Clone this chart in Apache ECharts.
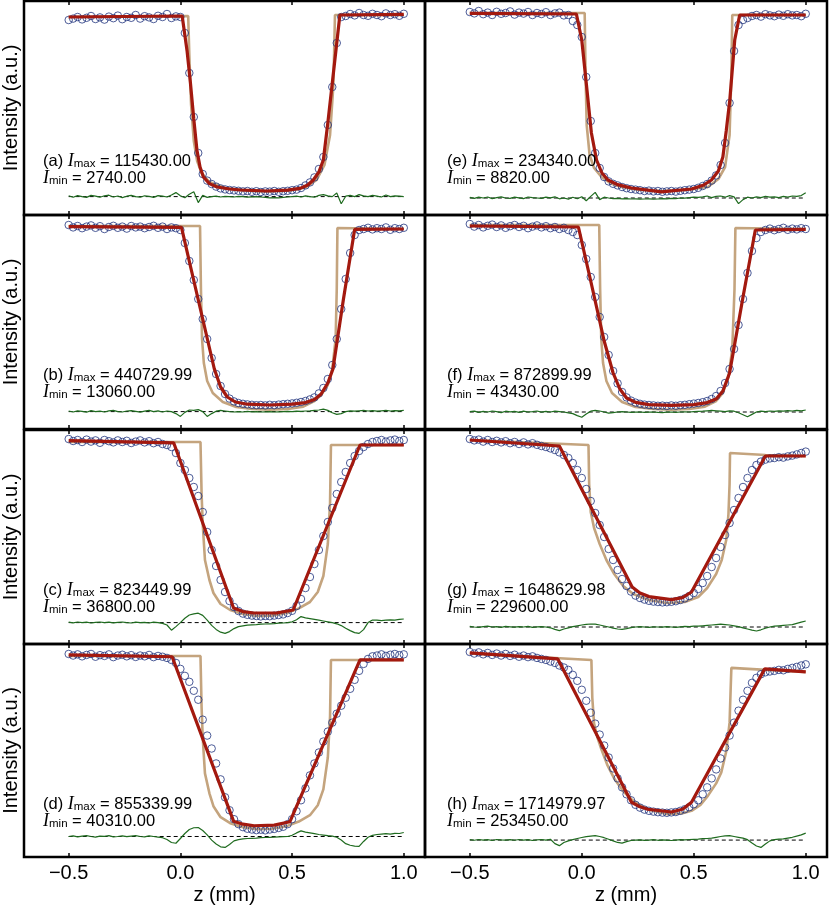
<!DOCTYPE html>
<html>
<head>
<meta charset="utf-8">
<script src="https://cdn.jsdelivr.net/npm/echarts@6/dist/echarts.min.js"></script>
<style>
  html, body { margin: 0; padding: 0; background: #fff; }
  #main { width: 830px; height: 906px; }
</style>
</head>
<body>
<div id="main"></div>
<script>
// z positions of the measured points (mm)
var zGrid = [-0.5,-0.48,-0.46,-0.44,-0.42,-0.4,-0.38,-0.36,-0.34,-0.32,-0.3,-0.28,-0.26,-0.24,-0.22,-0.2,-0.18,-0.16,-0.14,-0.12,-0.1,-0.08,-0.06,-0.04,-0.02,
  0,0.02,0.04,0.06,0.08,0.1,0.12,0.14,0.16,0.18,0.2,0.22,0.24,0.26,0.28,0.3,0.32,0.34,0.36,0.38,0.4,0.42,0.44,0.46,0.48,0.5,
  0.52,0.54,0.56,0.58,0.6,0.62,0.64,0.66,0.68,0.7,0.72,0.74,0.76,0.78,0.8,0.82,0.84,0.86,0.88,0.9,0.92,0.94,0.96,0.98,1.0];
var xTicks = [-0.5, 0, 0.5, 1.0];

var tags = ['a', 'b', 'c', 'd', 'e', 'f', 'g', 'h'];
var iMaxText = ['115430.00', '440729.99', '823449.99', '855339.99', '234340.00', '872899.99', '1648629.98', '1714979.97'];
var iMinText = ['2740.00', '13060.00', '36800.00', '40310.00', '8820.00', '43430.00', '229600.00', '253450.00'];
// zero level of the residual trace in each panel
var resBase = [0.092, 0.087, 0.107, 0.103, 0.085, 0.085, 0.085, 0.085];

// ---- panel (a)
var circA = [0.975,0.982,0.99,0.978,0.986,0.995,0.98,0.988,0.977,0.992,0.984,0.997,0.979,0.99,0.986,1.0,0.982,0.994,0.988,0.98,0.996,0.99,1.005,0.985,0.993,0.99,
  0.91,0.71,0.49,0.31,0.205,0.172,0.155,0.142,
  0.133,0.128,0.125,0.123,0.121,
  0.118,0.12,0.116,0.119,0.115,0.118,0.117,0.12,0.116,0.119,0.121,0.124,0.127,
  0.135,0.148,0.163,0.188,0.23,0.29,0.45,0.64,0.86,0.99,
  0.995,1.005,0.998,1.01,1.0,0.996,1.006,1.0,0.994,1.008,1.0,1.004,0.996,1.006];
var fitA = [[-0.5,0.99],[0.008,0.995],[0.03,0.82],[0.045,0.66],[0.06,0.48],[0.074,0.325],[0.088,0.24],[0.103,0.19],[0.13,0.157],[0.164,0.14],[0.22,0.13],[0.268,0.125],[0.388,0.12],[0.48,0.124],[0.536,0.133],[0.57,0.15],[0.595,0.175],[0.62,0.215],[0.64,0.275],[0.66,0.46],[0.68,0.66],[0.7,0.86],[0.714,1.0],[1.0,1.003]];
var modelA = [[-0.5,0.99],[0.035,0.995],[0.04,0.8],[0.048,0.55],[0.06,0.37],[0.075,0.27],[0.095,0.21],[0.13,0.165],[0.2,0.135],[0.3,0.122],[0.38,0.118],[0.48,0.122],[0.56,0.138],[0.61,0.175],[0.645,0.25],[0.67,0.4],[0.685,0.65],[0.692,1.0],[1.0,1.0]];
var resA = [0.004,-0.003,0.005,0.0,-0.004,0.006,0.002,-0.003,0.004,0.007,-0.002,0.003,-0.005,0.002,0.006,0.0,-0.003,0.004,0.001,-0.004,0.005,0.002,-0.002,0.008,
  0.02,0.004,-0.006,0.012,0.024,-0.03,0.006,-0.004,
  0.0,0.002,-0.002,0.001,0.0,-0.002,0.001,0.0,-0.003,-0.001,0.0,-0.002,-0.004,-0.006,-0.005,-0.006,-0.004,-0.002,0.0,0.002,
  -0.002,0.004,0.0,-0.003,0.006,0.01,0.004,0.0,0.018,-0.036,
  0.002,0.006,0.0,0.01,0.004,0.0,0.006,0.002,-0.002,0.008,0.0,0.004,0.002,0.0];

// ---- panel (b)
var circB = [1.02,1.008,1.015,1.004,1.012,1.018,1.006,1.014,1.0,1.01,1.016,1.006,1.012,1.002,1.015,1.008,1.012,1.004,1.01,1.016,1.006,1.012,1.0,1.008,1.004,
  0.995,0.93,0.84,0.745,0.65,0.55,0.45,0.355,0.275,0.215,0.175,0.152,0.138,0.13,
  0.126,0.123,0.121,0.119,0.12,0.118,0.121,0.119,0.122,0.124,0.126,0.128,0.131,
  0.135,0.14,0.148,0.158,0.178,0.205,0.25,0.32,0.45,0.6,0.75,0.88,0.97,0.995,
  1.0,1.006,0.998,1.004,1.0,1.008,0.996,1.004,1.0,1.006];
var fitB = [[-0.5,1.012],[0.005,1.008],[0.05,0.79],[0.1,0.55],[0.152,0.3],[0.18,0.21],[0.21,0.16],[0.246,0.135],[0.3,0.124],[0.4,0.12],[0.5,0.124],[0.56,0.132],[0.6,0.148],[0.63,0.175],[0.66,0.23],[0.683,0.3],[0.73,0.65],[0.78,0.998],[1.0,1.0]];
var modelB = [[-0.5,1.015],[0.088,1.015],[0.092,0.7],[0.097,0.45],[0.105,0.33],[0.12,0.24],[0.145,0.18],[0.19,0.135],[0.25,0.11],[0.32,0.1],[0.4,0.097],[0.48,0.1],[0.55,0.112],[0.6,0.14],[0.63,0.17],[0.66,0.22],[0.68,0.3],[0.695,0.45],[0.7,0.7],[0.703,1.005],[1.0,1.0]];
var resB = [0.003,-0.002,0.004,0.001,-0.003,0.005,0.0,0.002,-0.002,0.004,0.006,0.0,-0.002,0.003,0.005,0.001,-0.003,0.002,0.006,0.0,0.004,-0.002,0.003,0.0,
  -0.01,-0.024,-0.004,0.008,0.006,0.01,0.0,-0.024,-0.01,0.002,0.006,0.003,0.0,-0.002,
  0.0,-0.002,0.001,-0.001,0.0,-0.002,-0.001,0.0,-0.002,-0.001,0.0,0.001,0.0,0.002,0.001,0.003,0.004,0.006,
  0.008,0.012,0.006,-0.006,-0.014,-0.01,0.0,0.004,0.002,0.004,0.006,0.003,0.005,0.002,0.004,0.006,0.003,0.005,0.004,0.006];

// ---- panel (c)
var circC = [1.025,1.015,1.02,1.01,1.022,1.012,1.018,1.006,1.02,1.014,1.008,1.018,1.01,1.016,1.005,1.012,1.018,1.008,1.014,1.004,1.01,1.0,0.995,
  0.985,0.955,0.905,0.87,0.83,0.785,0.74,0.66,0.56,0.47,0.39,0.32,0.26,0.215,0.185,0.165,0.152,
  0.146,0.142,0.14,0.138,0.14,0.139,0.142,0.145,
  0.148,0.155,0.166,0.19,0.225,0.28,0.335,0.4,0.47,0.54,0.61,0.68,0.75,0.81,0.86,0.905,0.94,0.965,0.985,1.0,
  1.01,1.015,1.02,1.012,1.018,1.022,1.015,1.02];
var fitC = [[-0.5,1.017],[-0.03,1.006],[0.238,0.18],[0.28,0.162],[0.33,0.155],[0.43,0.155],[0.505,0.17],[0.804,0.995],[1.0,0.995]];
var modelC = [[-0.5,1.01],[0.09,1.01],[0.095,0.75],[0.1,0.6],[0.11,0.42],[0.13,0.32],[0.148,0.255],[0.18,0.2],[0.223,0.17],[0.28,0.15],[0.344,0.14],[0.41,0.142],[0.476,0.155],[0.53,0.178],[0.58,0.21],[0.615,0.26],[0.64,0.34],[0.66,0.5],[0.67,0.705],[0.674,0.995],[1.0,0.995]];
var resC = [0.002,-0.001,0.003,0.0,0.002,-0.002,0.001,0.003,0.0,0.002,-0.001,0.001,0.003,0.0,-0.002,0.002,0.0,0.001,-0.002,0.002,0.0,-0.004,
  -0.012,-0.038,-0.02,0.0,0.022,0.038,0.044,0.047,0.036,0.012,-0.014,-0.034,-0.048,-0.054,-0.045,-0.03,-0.02,-0.016,
  -0.013,-0.011,-0.01,-0.008,-0.007,-0.006,-0.005,-0.003,-0.002,0.0,
  0.004,0.014,0.03,0.024,0.02,0.016,0.012,0.008,0.004,0.0,
  -0.006,-0.015,-0.028,-0.04,-0.05,-0.054,-0.035,0.0,
  0.013,0.012,0.01,0.012,0.014,0.012,0.016,0.018];

// ---- panel (d)
var circD = [1.02,1.012,1.018,1.008,1.015,1.02,1.006,1.014,1.01,1.018,1.004,1.012,1.016,1.008,1.014,1.005,1.012,1.008,1.015,1.004,1.01,1.006,1.0,
  0.99,0.975,0.945,0.91,0.88,0.835,0.79,0.69,0.61,0.545,0.47,0.39,0.3,0.235,0.19,0.165,0.15,
  0.142,0.138,0.135,0.137,0.134,0.138,0.141,0.146,
  0.152,0.165,0.19,0.23,0.285,0.345,0.41,0.47,0.525,0.58,0.63,0.675,0.72,0.76,0.8,0.845,0.89,0.935,0.97,0.995,
  1.008,1.012,1.018,1.01,1.016,1.02,1.014,1.018];
var fitD = [[-0.5,1.015],[-0.037,1.006],[0.238,0.18],[0.28,0.165],[0.33,0.157],[0.42,0.16],[0.49,0.177],[0.804,0.99],[1.0,0.99]];
var modelD = [[-0.5,1.01],[0.09,1.01],[0.095,0.75],[0.1,0.6],[0.11,0.42],[0.13,0.32],[0.148,0.255],[0.18,0.2],[0.223,0.17],[0.28,0.15],[0.344,0.14],[0.41,0.142],[0.476,0.155],[0.53,0.178],[0.58,0.21],[0.615,0.26],[0.64,0.34],[0.66,0.5],[0.67,0.705],[0.674,0.99],[1.0,0.99]];
var resD = [0.0,0.003,-0.002,0.002,0.004,0.0,-0.003,0.002,0.001,0.004,-0.002,0.0,0.003,-0.001,0.002,0.004,0.0,-0.002,0.003,0.0,-0.003,-0.006,
  -0.015,-0.03,-0.034,-0.01,0.015,0.035,0.044,0.045,0.03,0.008,-0.018,-0.038,-0.052,-0.055,-0.04,-0.022,-0.016,-0.012,
  -0.01,-0.009,-0.008,-0.006,-0.005,-0.004,-0.003,-0.002,-0.001,0.0,
  0.006,0.018,0.028,0.022,0.018,0.014,0.01,0.007,0.004,0.002,
  -0.004,-0.018,-0.036,-0.044,-0.048,-0.05,-0.025,-0.004,
  0.006,0.01,0.012,0.014,0.012,0.016,0.015,0.02];

// ---- panel (e)
var circE = [1.015,1.008,1.02,1.004,1.012,1.0,1.016,1.006,1.01,1.018,1.002,1.012,1.007,1.015,1.0,1.01,1.005,1.014,1.0,1.008,1.012,0.998,1.0,
  0.97,0.95,0.89,
  0.69,0.47,0.31,0.235,0.19,0.168,0.156,0.148,
  0.14,0.134,0.13,0.127,0.124,
  0.12,0.122,0.118,0.12,0.116,0.118,0.12,0.117,0.121,0.124,0.127,0.13,0.136,
  0.145,0.155,0.172,0.198,0.25,0.36,0.56,0.82,0.95,0.975,
  0.985,0.995,1.0,0.992,1.004,0.998,0.994,1.002,0.996,1.004,0.998,1.0,0.994,1.006];
var fitE = [[-0.5,1.008],[-0.024,1.005],[0.0,0.875],[0.02,0.66],[0.043,0.41],[0.066,0.275],[0.09,0.21],[0.117,0.175],[0.16,0.152],[0.222,0.135],[0.356,0.116],[0.49,0.13],[0.545,0.15],[0.579,0.175],[0.61,0.22],[0.63,0.29],[0.645,0.42],[0.661,0.575],[0.683,0.875],[0.705,1.0],[1.0,1.0]];
var modelE = [[-0.5,1.01],[0.013,1.01],[0.017,0.7],[0.022,0.45],[0.035,0.3],[0.055,0.235],[0.088,0.19],[0.13,0.158],[0.177,0.14],[0.25,0.127],[0.356,0.12],[0.46,0.125],[0.563,0.14],[0.61,0.18],[0.64,0.24],[0.66,0.4],[0.668,0.7],[0.672,1.0],[1.0,1.0]];
var resE = [0.003,-0.002,0.004,0.0,0.005,-0.003,0.002,0.006,0.0,-0.002,0.004,0.001,-0.003,0.005,0.002,0.0,-0.002,0.004,0.001,0.006,-0.004,0.0,-0.006,
  0.004,-0.004,0.006,-0.014,0.008,0.028,-0.008,0.004,
  0.0,-0.003,-0.002,-0.004,-0.003,-0.005,-0.004,-0.006,-0.005,-0.004,-0.006,-0.005,-0.003,-0.004,-0.002,-0.003,0.0,-0.001,0.002,0.004,0.003,
  0.006,0.01,0.002,0.008,0.01,0.004,0.012,0.006,-0.028,-0.008,
  0.004,0.0,0.006,0.002,0.008,0.004,0.006,0.002,0.008,0.004,0.01,0.008,0.012,0.026];

// ---- panel (f)
var circF = [1.025,1.012,1.02,1.008,1.016,1.022,1.01,1.018,1.006,1.014,1.02,1.01,1.016,1.004,1.012,1.018,1.008,1.014,1.004,1.01,1.0,1.006,0.995,0.985,
  0.97,0.92,0.85,0.76,0.66,0.56,0.46,0.37,0.29,0.228,0.185,0.158,0.142,0.132,0.126,
  0.122,0.12,0.118,0.116,0.117,0.115,0.118,0.116,0.119,0.121,0.124,0.127,0.13,
  0.134,0.14,0.15,0.165,0.19,0.23,0.3,0.4,0.52,0.65,0.78,0.89,0.955,0.985,
  0.995,1.002,0.994,1.0,1.006,0.996,1.002,0.998,1.004,1.0];
var fitF = [[-0.5,1.015],[-0.015,1.01],[0.04,0.74],[0.1,0.44],[0.14,0.28],[0.17,0.2],[0.2,0.155],[0.24,0.133],[0.3,0.122],[0.4,0.118],[0.5,0.122],[0.56,0.132],[0.6,0.15],[0.63,0.19],[0.66,0.28],[0.72,0.66],[0.775,0.995],[1.0,0.998]];
var modelF = [[-0.5,1.02],[0.078,1.02],[0.082,0.7],[0.087,0.45],[0.095,0.33],[0.11,0.24],[0.135,0.18],[0.18,0.135],[0.24,0.11],[0.32,0.1],[0.4,0.096],[0.48,0.1],[0.55,0.112],[0.6,0.14],[0.63,0.18],[0.655,0.26],[0.672,0.4],[0.682,0.7],[0.686,1.005],[1.0,1.0]];
var resF = [0.002,0.004,-0.002,0.003,0.0,0.005,0.002,-0.003,0.004,0.001,0.003,-0.002,0.004,0.0,0.002,0.005,-0.001,0.003,0.0,0.004,0.002,0.0,-0.004,
  -0.008,-0.018,-0.026,-0.01,0.004,0.008,0.005,0.0,-0.006,-0.003,0.0,0.002,0.0,-0.002,
  -0.001,0.0,-0.002,-0.001,0.0,-0.002,-0.003,-0.001,0.0,-0.002,0.0,0.001,0.0,0.002,0.003,0.004,0.006,0.008,0.006,
  0.004,0.002,0.006,0.004,-0.004,-0.014,-0.024,-0.012,0.0,0.004,0.002,0.005,0.003,0.006,0.004,0.007,0.005,0.008,0.006,0.01];

// ---- panel (g)
var circG = [1.025,1.018,1.022,1.012,1.02,1.01,1.016,1.008,1.014,1.004,1.01,1.0,1.008,0.998,1.004,
  0.996,0.99,0.985,0.978,0.97,0.958,0.945,0.93,0.905,0.87,0.83,0.775,0.715,0.655,0.595,0.535,0.475,0.42,0.37,0.325,0.29,0.262,0.242,0.23,0.222,
  0.216,0.212,0.21,0.208,0.209,0.211,0.214,0.22,
  0.228,0.24,0.255,0.275,0.305,0.34,0.385,0.43,0.485,0.545,0.605,0.67,0.73,0.785,0.83,0.87,0.895,0.912,0.922,0.928,
  0.93,0.934,0.932,0.938,0.942,0.948,0.955,0.962];
var fitG = [[-0.5,1.02],[-0.1,0.99],[0.225,0.285],[0.26,0.255],[0.3,0.237],[0.4,0.222],[0.45,0.232],[0.49,0.26],[0.82,0.94],[1.0,0.94]];
var modelG = [[-0.5,1.02],[0.03,0.995],[0.033,0.8],[0.04,0.66],[0.055,0.58],[0.08,0.5],[0.11,0.42],[0.145,0.35],[0.185,0.29],[0.23,0.25],[0.3,0.22],[0.38,0.205],[0.46,0.21],[0.52,0.235],[0.56,0.28],[0.6,0.35],[0.625,0.42],[0.645,0.52],[0.655,0.65],[0.66,0.8],[0.662,0.955],[0.82,0.945],[1.0,0.94]];
var resG = [0.003,0.0,-0.002,0.002,0.004,0.0,0.002,-0.002,0.003,0.001,-0.001,0.002,0.0,0.003,-0.002,0.001,0.002,0.0,-0.004,
  -0.012,-0.018,-0.01,-0.004,0.002,0.006,0.01,0.013,0.015,0.014,0.01,0.005,0.0,-0.006,-0.01,-0.012,-0.008,-0.003,0.0,
  0.002,0.0,-0.002,0.001,0.0,-0.001,0.002,0.0,-0.002,0.001,0.003,0.002,0.004,
  0.004,0.006,0.008,0.01,0.012,0.014,0.012,0.01,0.006,0.002,-0.004,-0.01,-0.016,-0.02,-0.014,-0.006,0.0,
  0.004,0.006,0.008,0.01,0.012,0.018,0.024,0.03];

// ---- panel (h)
var circH = [1.03,1.022,1.028,1.018,1.025,1.015,1.022,1.012,1.02,1.01,1.016,1.006,1.012,1.004,1.008,
  1.0,0.995,0.99,0.982,0.975,0.962,0.952,0.94,0.915,0.885,0.84,0.785,0.725,0.67,0.615,0.56,0.5,0.445,0.395,0.35,0.315,0.285,0.262,0.248,0.238,
  0.232,0.228,0.225,0.223,0.222,0.224,0.226,0.232,
  0.24,0.25,0.265,0.285,0.315,0.35,0.395,0.44,0.495,0.55,0.61,0.675,0.735,0.79,0.835,0.875,0.9,0.918,0.928,0.932,
  0.935,0.94,0.938,0.945,0.95,0.955,0.962,0.968];
var fitH = [[-0.5,1.025],[-0.107,0.995],[0.222,0.275],[0.26,0.252],[0.295,0.24],[0.4,0.226],[0.45,0.24],[0.49,0.275],[0.817,0.945],[1.0,0.93]];
var modelH = [[-0.5,1.023],[0.043,0.99],[0.047,0.8],[0.055,0.67],[0.07,0.6],[0.088,0.54],[0.115,0.46],[0.147,0.39],[0.185,0.33],[0.222,0.29],[0.26,0.26],[0.3,0.237],[0.384,0.215],[0.45,0.22],[0.49,0.232],[0.53,0.262],[0.563,0.307],[0.6,0.37],[0.623,0.425],[0.645,0.53],[0.66,0.675],[0.665,0.85],[0.668,0.95],[0.82,0.94],[1.0,0.93]];
var resH = [0.002,-0.001,0.003,0.0,0.002,-0.002,0.003,0.001,0.0,0.002,-0.001,0.003,0.0,0.002,-0.002,0.001,0.003,0.0,0.004,
  -0.018,-0.028,-0.012,-0.004,0.002,0.008,0.013,0.017,0.02,0.022,0.018,0.012,0.004,-0.004,-0.012,-0.015,-0.008,-0.002,0.0,
  0.001,-0.001,0.0,0.002,-0.001,0.001,0.0,-0.002,0.0,0.002,0.001,0.003,0.004,
  0.005,0.007,0.008,0.01,0.014,0.018,0.021,0.022,0.018,0.014,0.01,0.002,-0.015,-0.03,-0.037,-0.02,-0.004,
  0.002,0.005,0.006,0.01,0.014,0.02,0.026,0.035];

var circs = [circA, circB, circC, circD, circE, circF, circG, circH];
var fits = [fitA, fitB, fitC, fitD, fitE, fitF, fitG, fitH];
var models = [modelA, modelB, modelC, modelD, modelE, modelF, modelG, modelH];
var resids = [resA, resB, resC, resD, resE, resF, resG, resH];

var chart = echarts.init(document.getElementById('main'));

var COL_LEFT = [23, 425];
var ROW_TOP = [1, 215, 430, 644];
var PW = 402, PH = 214;

function fmtTick(v) {
  return (v < 0 ? '\u2212' : '') + Math.abs(v).toFixed(1);
}

var grids = [], xAxes = [], yAxes = [], series = [], texts = [];

tags.forEach(function (tag, k) {
  var col = k < 4 ? 0 : 1;
  var row = k % 4;
  var left = COL_LEFT[col], top = ROW_TOP[row];
  var bottomRow = row === 3;

  grids.push({
    left: left, top: top, width: PW, height: PH,
    show: true, borderColor: '#000', borderWidth: 2.5
  });

  xAxes.push({
    gridIndex: k, type: 'value', position: 'bottom', min: -0.7, max: 1.095,
    axisLine: { show: false },
    splitLine: { show: false },
    axisTick: { show: true, inside: true, length: 4, customValues: xTicks, lineStyle: { color: '#000', width: 1.5 } },
    axisLabel: { show: bottomRow, customValues: xTicks, margin: 6, fontSize: 20, color: '#000', formatter: fmtTick },
    name: bottomRow ? 'z (mm)' : '',
    nameLocation: 'middle', nameGap: 28,
    nameTextStyle: { fontSize: 20, color: '#000' }
  });
  xAxes.push({
    gridIndex: k, type: 'value', position: 'top', min: -0.7, max: 1.095,
    axisLine: { show: false },
    splitLine: { show: false },
    axisTick: { show: true, inside: true, length: 4, customValues: xTicks, lineStyle: { color: '#000', width: 1.5 } },
    axisLabel: { show: false }
  });

  yAxes.push({
    gridIndex: k, type: 'value', min: 0, max: 1.07,
    axisLine: { show: false }, axisTick: { show: false },
    axisLabel: { show: false }, splitLine: { show: false },
    name: col === 0 ? 'Intensity (a.u.)' : '',
    nameLocation: 'middle', nameGap: 3, nameRotate: 90,
    nameTextStyle: { fontSize: 20, color: '#000' }
  });

  var xi = 2 * k;
  var base = resBase[k];

  series.push({
    type: 'line', xAxisIndex: xi, yAxisIndex: k, data: models[k],
    symbol: 'none', lineStyle: { color: '#c4a47e', width: 2.6 }, z: 2
  });
  series.push({
    type: 'scatter', xAxisIndex: xi, yAxisIndex: k,
    data: zGrid.map(function (z, i) { return [z, circs[k][i]]; }),
    symbol: 'circle', symbolSize: 7.5,
    itemStyle: { color: 'rgba(0,0,0,0)', borderColor: '#22347e', borderWidth: 1 }, z: 3
  });
  series.push({
    type: 'line', xAxisIndex: xi, yAxisIndex: k, data: fits[k],
    symbol: 'none', lineStyle: { color: '#a3190f', width: 3.2 }, z: 4
  });
  series.push({
    type: 'line', xAxisIndex: xi, yAxisIndex: k,
    data: [[zGrid[0], base], [zGrid[zGrid.length - 1], base]],
    symbol: 'none', lineStyle: { color: '#000', width: 1, type: [4, 3] }, z: 4
  });
  series.push({
    type: 'line', xAxisIndex: xi, yAxisIndex: k,
    data: zGrid.map(function (z, i) { return [z, base + resids[k][i]]; }),
    symbol: 'none', lineStyle: { color: '#1f6b1f', width: 1.2 }, z: 5
  });

  texts.push({
    type: 'text',
    left: col === 0 ? 43 : 447,
    top: top + 151,
    z: 100,
    style: {
      text: '{n|(' + tag + ') }{i|I}{s|max}{n| = ' + iMaxText[k] + '}\n{i|I}{s|min}{n| = ' + iMinText[k] + '}',
      fill: '#000',
      fontSize: 16.5,
      fontFamily: 'Liberation Sans',
      rich: {
        n: { fontSize: 16.5, fontFamily: 'Liberation Sans', lineHeight: 17 },
        i: { fontSize: 18, fontFamily: 'Liberation Serif', fontStyle: 'italic', lineHeight: 17 },
        s: { fontSize: 11.5, fontFamily: 'Liberation Sans', lineHeight: 9, verticalAlign: 'bottom' }
      }
    }
  });
});

chart.setOption({
  animation: false,
  backgroundColor: '#fff',
  textStyle: { fontFamily: 'Liberation Sans' },
  grid: grids,
  xAxis: xAxes,
  yAxis: yAxes,
  series: series,
  graphic: { elements: texts }
});
</script>
</body>
</html>
